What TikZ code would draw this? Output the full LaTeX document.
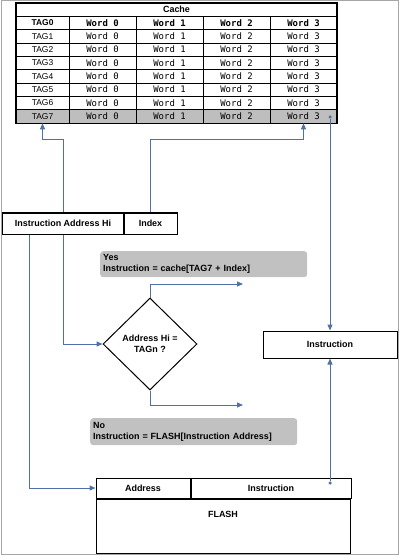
\documentclass[tikz,border=0pt]{standalone}
\usepackage{fontspec}
\setmainfont{Liberation Sans}
\setmonofont{DejaVu Sans Mono}
\usepackage{tikz}
\usetikzlibrary{shapes,arrows,positioning,calc,arrows.meta}
\definecolor{wire}{RGB}{79,113,165}
\definecolor{rowgray}{RGB}{190,190,190}
\definecolor{notegray}{RGB}{193,193,193}
\tikzset{
    cell/.style={draw, line width=0.6bp, inner sep=0pt, minimum height=13.33bp, font=\fontsize{8.5}{10}\selectfont},
    tagcell/.style={cell, minimum width=53bp},
    wordcell/.style={cell, minimum width=67bp, font=\ttfamily\fontsize{9}{10}\selectfont},
    box/.style={draw, line width=1bp, fill=white, inner sep=0pt, font=\bfseries\fontsize{9}{11}\selectfont},
    note/.style={fill=notegray, rounded corners=3bp, align=left, anchor=north west, inner sep=3bp, text width=201bp, font=\bfseries\fontsize{9}{11}\selectfont},
    wire/.style={draw=wire, line width=1bp, -{Triangle[length=6bp,width=5bp]}},
    dot/.style={circle, fill=wire, inner sep=0pt, minimum size=3.5bp},
}

\begin{document}
\begin{tikzpicture}[x=1bp,y=-1bp]
    \useasboundingbox (0,0) rectangle (400,555);
    \draw[gray!70, line width=1bp] (1,0.5) rectangle (398.5,554);

    % Cache table
    \fill[rowgray] (16,109.97) rectangle (337,123.3);
    \node[cell, minimum width=321bp, font=\bfseries\fontsize{9}{11}\selectfont] (cache) at (176.5,9.67) {Cache};
    \foreach \r in {0,...,7} {
        \pgfmathsetmacro\yy{23+13.33*\r}
        \node[tagcell] (t\r) at (42.5,\yy) {\ifnum\r=0 \bfseries\fi TAG\r};
        \foreach \c/\xx in {0/102.5,1/169.5,2/236.5,3/303.5}
            \node[wordcell] (w\r\c) at (\xx,\yy) {\ifnum\r=0 \bfseries\fi Word \c};
    }
    \draw[line width=1.2bp] (16,3) rectangle (337,123.3);

    % Address fields
    \coordinate (bus) at (0,140);
    \node[box, minimum width=120bp, minimum height=21bp] (hi) at (63,223.5) {Instruction Address Hi};
    \node[box, minimum width=53bp, minimum height=21bp, right=0pt of hi] (idx) {Index};
    \draw[wire] (hi.north) -- (hi.north |- bus) -| (t7.south);
    \draw[wire] (idx.north) -- (idx.north |- bus) -| (w73.south);

    % Compare
    \node[diamond, draw, line width=1bp, fill=white, minimum width=94bp, minimum height=92bp, inner sep=0pt, align=center, font=\bfseries\fontsize{9}{11}\selectfont] (dia) at (150,344) {Address Hi =\\TAGn ?};
    \draw[wire] (hi.south) |- (dia.west);
    \coordinate (yesend) at (243,284);
    \coordinate (noend) at (243,405);
    \draw[wire] (dia.north) |- (yesend);
    \draw[wire] (dia.south) |- (noend);
    \node[note, minimum height=26bp] (yes) at (100,251) {Yes\\Instruction = cache[TAG7 + Index]};
    \node[note, minimum height=27bp] (no) at (90,418) {No\\Instruction = FLASH[Instruction Address]};

    % Result
    \node[box, minimum width=134bp, minimum height=27bp] (ins) at (330,344.5) {Instruction};
    \node[dot] (cdot) at (330,117) {};
    \draw[wire] (cdot) -- (ins.north);

    % FLASH
    \node[box, minimum width=94bp, minimum height=20bp] (fa) at (143,488) {Address};
    \node[box, minimum width=160bp, minimum height=20bp, right=0pt of fa] (fi) {Instruction};
    \node[box, minimum width=254bp, minimum height=54bp, anchor=north west] (flash) at (fa.south west) {};
    \node[font=\bfseries\fontsize{9}{11}\selectfont] (flashlbl) at ($(flash.north)+(0,16)$) {FLASH};
    \coordinate (addr) at ([xshift=27bp]hi.south west);
    \draw[wire] (addr) |- (fa.west);
    \node[dot] (fdot) at (330,483) {};
    \draw[wire] (fdot) -- (ins.south);
\end{tikzpicture}
\end{document}
